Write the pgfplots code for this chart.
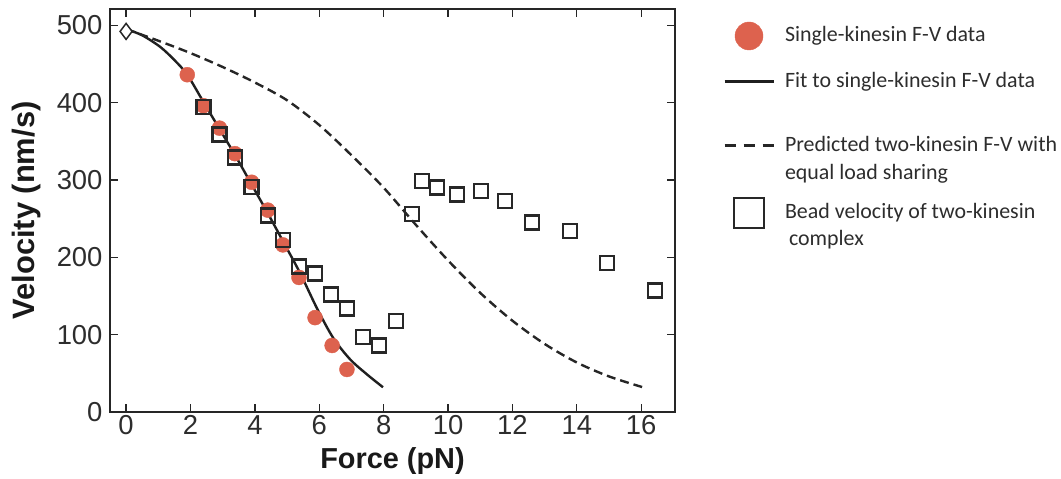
\documentclass[border=0pt]{standalone}
\usepackage{pgfplots}
\pgfplotsset{compat=1.18}
\usepackage{fontspec}
\setmainfont{Liberation Sans}
\newfontfamily\legfont{Carlito}
\definecolor{kred}{RGB}{221,98,78}
\definecolor{sqc}{RGB}{40,40,40}
\definecolor{txt}{RGB}{45,45,45}
\begin{document}
\begin{tikzpicture}
\begin{axis}[name=ax,
  scale only axis, width=565bp, height=403bp,
  xmin=-0.5, xmax=17.05, ymin=0, ymax=521,
  xtick={0,2,...,16}, ytick={0,100,...,500},
  tick align=inside, major tick length=8bp,
  axis line style={line width=1.6bp, draw=black!85},
  tick style={line width=1.3bp, draw=black!85},
  every tick label/.append style={font=\fontsize{27.5}{30}\selectfont, text=txt},
  /pgf/number format/assume math mode=true,
  yticklabel style={xshift=-4bp},
  xlabel={\bfseries Force (pN)},
  ylabel={\bfseries Velocity (nm/s)},
  every axis x label/.style={at={(axis description cs:0.5,-0.1414)}, anchor=base,
     font=\fontsize{29}{32}\selectfont, text=black!90},
  every axis y label/.style={at={(axis description cs:-0.147,0.5)}, rotate=90, anchor=center,
     font=\fontsize{31}{34}\selectfont, text=black!90},
  clip=false,
  legend cell align=left,
  legend style={at={(axis description cs:1,1)}, anchor=north west, xshift=48bp, yshift=-10bp,
    draw=none, fill=none, inner sep=0pt, outer sep=0pt,
    font=\legfont\fontsize{22}{26}\selectfont, text=txt,
    nodes={inner sep=0pt, anchor=base west},
    row sep=0bp,
    /tikz/every odd column/.append style={column sep=10bp}},
]
% single-kinesin data
\addplot[only marks, mark=*, mark size=7.5bp, draw=none, fill=kred, color=kred,
  legend image code/.code={\path[draw=none, fill=none] (0bp,-26bp) rectangle (49bp,23bp);
    \draw[kred, fill=kred, mark=*, mark size=14bp, only marks] plot coordinates {(24.5bp,6bp)};}]
  coordinates {(1.9,436)(2.4,396)(2.9,367)(3.38,334)(3.9,297)(4.4,261)(4.87,216)(5.37,174)(5.87,122)(6.4,86)(6.86,55)};
\addlegendentry{Single-kinesin F-V data}
% fit
\addplot[smooth, line width=2.4bp, color=black!88,
  legend image code/.code={\path[draw=none, fill=none] (0bp,-44bp) rectangle (49bp,20bp);
    \draw[black!88, line width=3bp] (0bp,6bp) -- (49bp,6bp);}]
  coordinates {(0,495)(0.5,487)(1.06,472)(1.5,455)(1.9,436)(2.4,401)(2.9,366)(3.4,331)(3.9,294)(4.4,257)(4.87,221)(5.4,180)(5.93,134)(6.43,96)(6.96,68)(7.5,48)(7.98,32)};
\addlegendentry{Fit to single-kinesin F-V data}
% predicted two-kinesin
\addplot[smooth, line width=2.4bp, color=black!85, dash pattern=on 9bp off 5bp,
  legend image code/.code={\path[draw=none, fill=none] (0bp,-12bp) rectangle (49bp,20bp);
    \draw[black!85, line width=3bp, dash pattern=on 11bp off 8bp] (0bp,6bp) -- (49bp,6bp);}]
  coordinates {(0,495)(1,480)(2,464)(3,446)(4,426)(5,403)(6,371)(7,332)(8,290)(9,242)(10,196)(11,154)(12,118)(13,88)(14,64)(15,46)(16.05,32)};
\addlegendentry{Predicted two-kinesin F-V with}
\addlegendimage{legend image code/.code={\path[draw=none, fill=none] (0bp,-16bp) rectangle (49bp,16bp);}}
\addlegendentry{equal load sharing}
% bead velocity two-kinesin complex
\addplot[only marks, mark=square, mark size=7bp, line width=2.4bp, color=sqc,
  legend image code/.code={\path[draw=none, fill=none] (0bp,-11bp) rectangle (49bp,23bp);
    \draw[sqc, mark=square, mark size=15bp, line width=2.8bp, only marks] plot coordinates {(24.5bp,6bp)};}]
  coordinates {(2.4,394)(2.9,359)(3.38,329)(3.9,291)(4.4,254)(4.87,222)(5.37,188)(5.87,179)(6.37,152)(6.86,134)(7.36,97)(7.86,86)(8.38,118)(8.88,256)(9.19,299)(9.65,290)(10.27,281)(11.02,286)(11.77,273)(12.6,245)(13.79,234)(14.94,193)(16.43,157)};
\addlegendentry{Bead velocity of two-kinesin}
\addlegendimage{legend image code/.code={\path[draw=none, fill=none] (0bp,-6bp) rectangle (49bp,16bp);}}
\addlegendentry{\hspace{4bp}complex}
% diamond at zero force
\addplot[only marks, mark=diamond*, mark size=8bp, line width=1.5bp, color=black!85, fill=white, forget plot]
  coordinates {(0,492)};
\end{axis}
\pgfresetboundingbox
\path[use as bounding box] ([xshift=-110bp,yshift=-67bp]ax.south west) rectangle ([xshift=386bp,yshift=9bp]ax.north east);
\end{tikzpicture}
\end{document}
